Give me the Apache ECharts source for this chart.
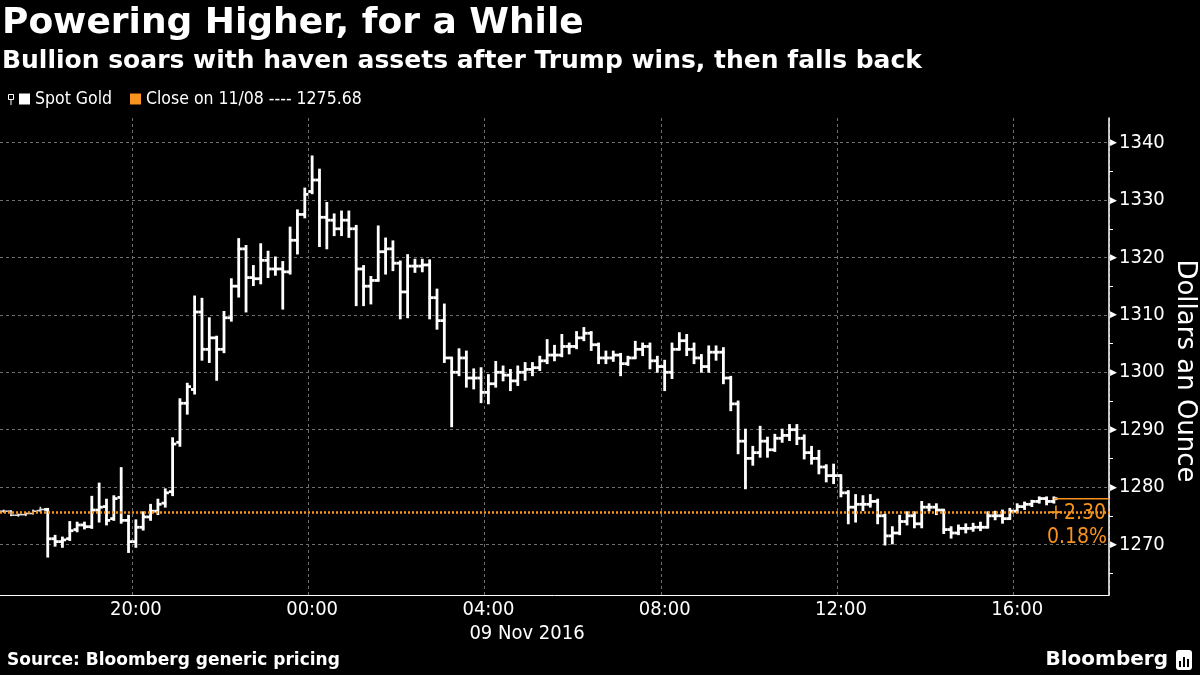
<!DOCTYPE html>
<html><head><meta charset="utf-8">
<script src="https://cdn.jsdelivr.net/npm/echarts@6/dist/echarts.min.js"></script>
<style>html,body{margin:0;padding:0;background:#000;}#c{width:1200px;height:675px;}</style>
</head><body><div id="c"></div>
<script>
// ---- text ----
const titleText = 'Powering Higher, for a While';
const subtitleText = 'Bullion soars with haven assets after Trump wins, then falls back';
const seriesName = 'Spot Gold';
const closeName = 'Close on 11/08 ---- 1275.68';
const prevClose = 1275.68;
const dateLabel = '09 Nov 2016';
const yAxisName = 'Dollars an Ounce';
const sourceText = 'Source: Bloomberg generic pricing';
const brandText = 'Bloomberg';

// ---- time axis: 10-minute slots starting 8 Nov 17:00 ----
const slotStartHour = 17, slotMinutes = 10, slotCount = 151;
const categories = [];
for (let i = 0; i < slotCount; i++) {
  const m = slotStartHour * 60 + i * slotMinutes;
  const hh = Math.floor(m / 60) % 24, mm = m % 60;
  categories.push(String(hh).padStart(2, '0') + ':' + String(mm).padStart(2, '0'));
}

// ---- 10-minute OHLC bars ----
const opens = [
1275.8,1275.8,1275.1,1275.2,1275.4,1275.9,1276.1,1271.0,1270.5,1271.0,
1272.6,1273.4,1273.1,1276.0,1276.6,1274.5,1278.2,1274.2,1270.5,1273.0,
1274.8,1275.8,1277.2,1279.2,1287.8,1294.6,1297.0,1310.5,1304.0,1306.0,
1304.0,1309.5,1315.0,1321.5,1316.5,1316.3,1319.5,1318.0,1318.0,1317.5,
1323.0,1327.5,1331.5,1333.5,1327.0,1326.5,1325.0,1326.5,1325.0,1318.0,
1315.0,1316.0,1321.0,1321.5,1319.0,1314.0,1318.5,1318.5,1318.7,1313.0,
1309.0,1302.5,1300.0,1302.5,1299.0,1299.0,1296.5,1298.0,1300.0,1299.5,
1298.5,1300.0,1300.5,1300.8,1302.0,1303.0,1303.0,1304.5,1304.5,1306.0,
1306.8,1304.8,1302.5,1302.5,1303.0,1301.5,1302.5,1304.0,1304.5,1302.0,
1301.0,1300.0,1304.0,1305.5,1304.0,1302.5,1301.0,1303.5,1303.5,1299.0,
1294.5,1288.0,1285.0,1286.0,1288.0,1286.5,1288.5,1289.0,1290.0,1288.5,
1286.0,1285.0,1283.5,1282.0,1282.0,1279.0,1276.5,1277.0,1277.0,1277.5,
1275.0,1271.5,1272.0,1274.0,1275.0,1273.6,1276.5,1276.5,1276.0,1272.6,
1272.0,1272.8,1272.8,1273.0,1273.0,1275.0,1275.0,1274.5,1275.8,1276.6,
1277.0,1277.5,1278.0,1277.5];
const closes = [
1275.8,1275.1,1275.2,1275.4,1275.8,1276.1,1271.0,1270.5,1270.8,1272.4,
1273.4,1273.1,1276.0,1276.5,1274.2,1278.0,1274.2,1270.5,1273.0,1274.8,
1275.8,1277.0,1279.0,1287.5,1294.6,1297.5,1310.5,1304.0,1306.0,1304.0,
1309.5,1315.0,1321.5,1316.5,1316.3,1319.5,1318.0,1318.0,1317.5,1323.0,
1327.5,1331.0,1333.5,1327.0,1326.5,1325.0,1326.5,1325.0,1318.0,1315.0,
1316.0,1321.0,1321.5,1319.0,1314.0,1318.5,1318.5,1318.7,1313.0,1309.0,
1302.5,1300.0,1302.5,1299.0,1299.0,1296.5,1298.0,1300.0,1299.5,1298.5,
1300.0,1300.5,1300.8,1302.0,1303.0,1303.0,1304.5,1304.5,1306.0,1306.8,
1304.8,1302.5,1302.5,1303.0,1301.5,1302.5,1304.0,1304.5,1302.0,1301.0,
1300.0,1304.0,1305.5,1304.0,1302.5,1301.0,1303.5,1303.5,1299.0,1294.5,
1288.0,1285.0,1286.0,1288.0,1286.5,1288.5,1289.0,1290.0,1288.5,1286.0,
1285.0,1283.5,1282.0,1282.0,1279.0,1276.5,1277.0,1277.0,1277.5,1275.0,
1271.5,1272.0,1274.0,1275.0,1273.6,1276.5,1276.5,1276.0,1272.6,1272.0,
1272.8,1272.8,1273.0,1273.0,1275.0,1275.0,1274.5,1275.8,1276.6,1277.0,
1277.5,1278.0,1277.5,1277.98];
const lows = [
1275.7,1275.1,1275.0,1275.1,1275.4,1275.8,1267.9,1269.8,1269.6,1270.8,
1272.3,1272.8,1272.9,1274.0,1273.5,1274.3,1273.8,1268.7,1269.6,1272.6,
1274.3,1275.3,1276.6,1278.6,1287.2,1292.8,1296.3,1302.2,1301.8,1298.7,
1303.5,1309.0,1313.2,1310.6,1315.2,1315.5,1316.6,1317.0,1311.1,1317.2,
1320.7,1327.0,1331.2,1322.0,1321.6,1323.9,1323.9,1323.6,1311.7,1311.7,
1312.0,1316.0,1317.2,1317.8,1309.4,1309.6,1317.5,1317.6,1309.4,1307.6,
1301.8,1290.6,1299.5,1297.5,1297.2,1294.8,1294.6,1297.5,1298.6,1296.9,
1297.8,1298.7,1299.5,1300.4,1301.6,1302.1,1302.8,1303.3,1304.2,1305.6,
1303.9,1301.6,1301.6,1302.0,1299.5,1301.3,1302.5,1303.0,1300.7,1300.1,
1296.9,1299.0,1304.0,1303.0,1301.6,1300.1,1300.1,1302.2,1298.1,1293.4,
1285.9,1279.8,1283.9,1285.3,1285.3,1286.3,1287.9,1288.2,1287.5,1285.0,
1284.1,1282.4,1281.0,1280.7,1278.4,1273.7,1274.0,1276.0,1276.6,1273.7,
1270.0,1270.2,1271.8,1273.5,1273.0,1273.0,1275.9,1275.3,1272.0,1271.2,
1271.8,1272.1,1272.4,1272.5,1273.0,1274.4,1273.8,1274.5,1275.6,1276.2,
1276.7,1277.3,1277.0,1277.3];
const highs = [
1275.9,1275.8,1275.2,1275.4,1275.9,1276.4,1276.2,1271.5,1271.2,1273.9,
1273.8,1273.8,1278.3,1280.6,1277.8,1278.4,1283.3,1275.0,1274.2,1275.6,
1276.9,1277.8,1279.6,1288.5,1295.3,1298.0,1313.2,1312.8,1309.4,1306.2,
1310.5,1316.2,1323.2,1322.0,1318.5,1322.3,1321.0,1320.0,1319.2,1325.2,
1328.2,1332.0,1337.6,1335.3,1329.5,1327.5,1328.0,1328.0,1325.5,1318.5,
1316.6,1325.4,1323.3,1322.8,1319.3,1320.4,1319.6,1319.6,1319.5,1314.4,
1311.8,1302.5,1304.0,1303.6,1300.5,1300.7,1299.5,1301.8,1301.0,1300.4,
1301.0,1301.6,1301.6,1302.7,1305.6,1304.6,1306.5,1305.0,1307.0,1307.7,
1307.0,1305.0,1303.6,1303.6,1303.2,1302.7,1305.3,1305.0,1305.0,1302.7,
1302.0,1305.0,1306.8,1306.5,1305.0,1303.0,1304.5,1304.5,1304.2,1299.2,
1294.9,1290.0,1287.0,1290.5,1288.6,1289.1,1290.0,1290.8,1290.8,1289.0,
1287.0,1286.3,1283.8,1283.9,1282.0,1279.3,1278.6,1278.4,1278.6,1277.8,
1275.2,1273.0,1275.0,1275.6,1275.6,1277.4,1277.0,1277.0,1276.0,1273.0,
1273.3,1273.5,1273.6,1273.8,1275.6,1275.7,1275.9,1276.2,1277.0,1277.3,
1277.6,1278.2,1278.2,1278.2];

// ---- look ----
const ORANGE = '#f7931e';
const GRID = '#707070';
const COND = '"DejaVu Sans Condensed", "DejaVu Sans", sans-serif';
const REG = '"DejaVu Sans", sans-serif';
const BOLD = '"DejaVu Sans", sans-serif';

const ohlcData = opens.map((o, i) => [i, o, closes[i], lows[i], highs[i]]);
const lastIndex = closes.length - 1;
const lastPrice = closes[lastIndex];
const change = lastPrice - prevClose;
const changeText = (change >= 0 ? '+' : '') + change.toFixed(2);
const pctText = (change / prevClose * 100).toFixed(2) + '%';

function isHourMark(v, every) {
  const [h, m] = v.split(':').map(Number);
  return m === 0 && h % every === 0;
}

function renderOHLC(params, api) {
  const i = api.value(0);
  const half = api.size([1, 0])[0] / 2;
  const o = api.coord([i, api.value(1)]);
  const c = api.coord([i, api.value(2)]);
  const l = api.coord([i, api.value(3)]);
  const h = api.coord([i, api.value(4)]);
  const flat = i < 6;
  const st = { stroke: flat ? '#dddddd' : '#ffffff', lineWidth: flat ? 1.6 : 2.8 };
  return { type: 'group', children: [
    { type: 'line', shape: { x1: h[0], y1: h[1] - 1, x2: l[0], y2: l[1] + 1 }, style: st },
    { type: 'line', shape: { x1: o[0] - half, y1: o[1], x2: o[0] + 1, y2: o[1] }, style: st },
    { type: 'line', shape: { x1: c[0] - 1, y1: c[1], x2: c[0] + half, y2: c[1] }, style: st }
  ]};
}

function renderLast(params, api) {
  const p = api.coord([api.value(0), api.value(1)]);
  const right = params.coordSys.x + params.coordSys.width;
  return { type: 'group', children: [
    { type: 'line', shape: { x1: p[0], y1: p[1], x2: right, y2: p[1] }, style: { stroke: ORANGE, lineWidth: 1.5 } },
    { type: 'text', x: right - 3, y: p[1] + 15, style: { text: changeText, fill: ORANGE, fontSize: 21, fontFamily: COND, align: 'right', verticalAlign: 'middle' } },
    { type: 'text', x: right - 2, y: p[1] + 39, style: { text: pctText, fill: ORANGE, fontSize: 21, fontFamily: COND, align: 'right', verticalAlign: 'middle' } }
  ]};
}

const chart = echarts.init(document.getElementById('c'), null, { renderer: 'canvas' });
chart.setOption({
  backgroundColor: '#000000',
  animation: false,
  title: [
    { text: titleText, left: 0, top: 4, padding: [2, 2],
      textStyle: { color: '#fff', fontFamily: BOLD, fontWeight: 'bold', fontSize: 36 } },
    { text: subtitleText, left: 0, top: 47, padding: [2, 2],
      textStyle: { color: '#fff', fontFamily: BOLD, fontWeight: 'bold', fontSize: 25 } }
  ],
  legend: {
    left: 19, top: 90, padding: 0, itemWidth: 11, itemHeight: 11, itemGap: 18,
    textStyle: { color: '#fff', fontSize: 17.5, fontFamily: COND },
    data: [{ name: seriesName, icon: 'rect' }, { name: closeName, icon: 'rect' }],
    selectedMode: false
  },
  grid: { left: 0, right: 91, top: 118, bottom: 80, containLabel: false },
  xAxis: {
    type: 'category', data: categories, boundaryGap: true,
    axisLine: { lineStyle: { color: '#fff', width: 1 } },
    axisTick: { interval: (i, v) => isHourMark(v, 2), length: 5, lineStyle: { color: '#bbb' } },
    axisLabel: { interval: (i, v) => isHourMark(v, 4), color: '#fff', fontSize: 20, fontFamily: COND, margin: 5 },
    splitLine: { show: true, interval: (i, v) => isHourMark(v, 4), lineStyle: { color: GRID, type: [3, 3], width: 1 } }
  },
  yAxis: {
    type: 'value', position: 'right', min: 1261.2, max: 1344.3, splitNumber: 8, minInterval: 10, maxInterval: 10,
    axisLine: { show: true, lineStyle: { color: '#fff', width: 1.5 } },
    axisTick: { show: false },
    minorTick: { show: true, splitNumber: 2, length: 4, lineStyle: { color: '#fff', width: 1 } },
    axisLabel: {
      showMinLabel: false, showMaxLabel: false, margin: 1,
      formatter: v => '{t|\u25B6}{v|' + v + '}',
      rich: {
        t: { fontSize: 9, color: '#fff', padding: [0, 2, 0, 0] },
        v: { fontSize: 20, color: '#fff', fontFamily: COND }
      }
    },
    splitLine: { show: true, showMinLine: false, showMaxLine: false, lineStyle: { color: GRID, type: [3, 3], width: 1 } }
  },
  series: [
    {
      name: seriesName, type: 'custom', renderItem: renderOHLC, data: ohlcData,
      itemStyle: { color: '#ffffff' }, encode: { x: 0, y: [1, 2, 3, 4] }, clip: true, z: 3
    },
    {
      name: closeName, type: 'line', data: [], itemStyle: { color: ORANGE }, z: 4,
      markLine: {
        silent: true, symbol: ['none', 'none'], label: { show: false },
        lineStyle: { color: ORANGE, type: [2, 2], width: 2.5, opacity: 1 },
        data: [{ yAxis: prevClose }]
      }
    },
    {
      name: 'last', type: 'custom', renderItem: renderLast, data: [[lastIndex, lastPrice]],
      encode: { x: 0, y: 1 }, z: 5
    }
  ],
  graphic: [
    { type: 'rect', shape: { x: 8.5, y: 94.5, width: 5, height: 5 }, style: { stroke: '#fff', fill: 'none', lineWidth: 1 } },
    { type: 'line', shape: { x1: 11, y1: 99.5, x2: 11, y2: 105 }, style: { stroke: '#fff', lineWidth: 1 } },
    { type: 'text', x: 1185, y: 371, rotation: -Math.PI / 2, style: { text: yAxisName, fill: '#fff', fontSize: 26, fontFamily: REG, align: 'center', verticalAlign: 'middle' } },
    { type: 'text', x: 527, y: 634, style: { text: dateLabel, fill: '#fff', fontSize: 20, fontFamily: COND, align: 'center', verticalAlign: 'middle' } },
    { type: 'text', x: 7, y: 661, style: { text: sourceText, fill: '#fff', fontSize: 17, fontWeight: 'bold', fontFamily: BOLD, align: 'left', verticalAlign: 'middle' } },
    { type: 'text', x: 1168, y: 660, style: { text: brandText, fill: '#fff', fontSize: 20, fontWeight: 'bold', fontFamily: BOLD, align: 'right', verticalAlign: 'middle' } },
    { type: 'rect', shape: { x: 1176, y: 650, width: 16, height: 20, r: 3 }, style: { fill: '#fff' } },
    { type: 'rect', shape: { x: 1179, y: 661, width: 2, height: 6 }, style: { fill: '#000' } },
    { type: 'rect', shape: { x: 1183, y: 657, width: 2, height: 10 }, style: { fill: '#000' } },
    { type: 'rect', shape: { x: 1187, y: 659, width: 2, height: 8 }, style: { fill: '#000' } }
  ]
});
</script>
</body></html>
